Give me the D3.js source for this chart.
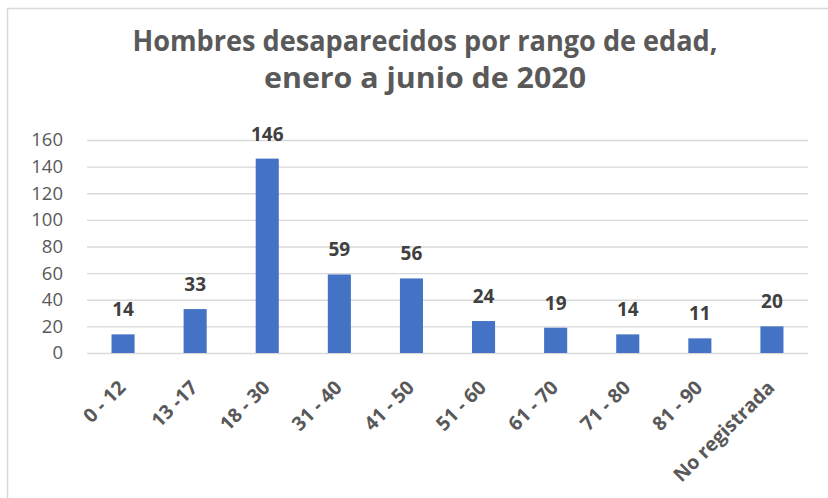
<!DOCTYPE html>
<html lang="es">
<head>
  <meta charset="UTF-8">
  <title>Hombres desaparecidos por rango de edad</title>
  <script src="https://d3js.org/d3.v7.min.js"></script>
  <style>
    body { margin: 0; background: #ffffff; }
    svg { display: block; font-family: "Open Sans", "Noto Sans", sans-serif; }
  </style>
</head>
<body>
  <svg id="chart" width="828" height="498"></svg>
  <script>
    // Data.
    const categories = ["0 - 12", "13 -17", "18 - 30", "31 - 40", "41 - 50", "51 - 60", "61 - 70", "71 - 80", "81 - 90", "No registrada"];
    const values = [14, 33, 146, 59, 56, 24, 19, 14, 11, 20];
    const yTicks = [0, 20, 40, 60, 80, 100, 120, 140, 160];
    const titleLines = ["Hombres desaparecidos por rango de edad,", "enero a junio de 2020"];

    const svg = d3.select("#chart");
    const margin = {top: 140, left: 87, right: 20, bottom: 145};
    const width = 828 - margin.left - margin.right;
    const height = 498 - margin.top - margin.bottom;

    // Outer chart frame (runs off the right and bottom edges like the screenshot).
    svg.append("rect")
      .attr("x", 7.5).attr("y", 8.5)
      .attr("width", 900).attr("height", 600)
      .attr("fill", "none")
      .attr("stroke", "#d9d9d9")
      .attr("stroke-width", 1.5);

    // Title (condensed to mimic the narrow original face)
    svg.selectAll("text.title")
      .data(titleLines)
      .join("text")
      .attr("class", "title")
      .attr("x", 425)
      .attr("y", (d, i) => 51 + i * 37)
      .attr("text-anchor", "middle")
      .attr("font-size", 28)
      .attr("font-weight", "bold")
      .attr("fill", "#595959")
      .attr("textLength", (d, i) => i === 0 ? 585 : 322)
      .attr("lengthAdjust", "spacingAndGlyphs")
      .text(d => d);

    const g = svg.append("g").attr("transform", `translate(${margin.left},${margin.top})`);

    const x = d3.scaleBand().domain(categories).range([0, width]).paddingInner(0.68).paddingOuter(0.34);
    const y = d3.scaleLinear().domain([0, 160]).range([height, 0]);

    // Gridlines
    g.append("g")
      .call(d3.axisLeft(y).tickValues(yTicks).tickSize(-width).tickFormat(""))
      .call(s => s.select(".domain").remove())
      .call(s => s.selectAll("line").attr("stroke", "#d9d9d9").attr("stroke-width", 1.3));

    // Y axis labels
    g.append("g")
      .call(d3.axisLeft(y).tickValues(yTicks).tickSize(0).tickPadding(24))
      .call(s => s.select(".domain").remove())
      .call(s => s.selectAll("text")
        .attr("font-size", 18.5)
        .attr("font-family", "'Open Sans', sans-serif")
        .attr("fill", "#595959"));

    // Bars
    g.selectAll("rect.bar")
      .data(values)
      .join("rect")
      .attr("class", "bar")
      .attr("x", (d, i) => x(categories[i]))
      .attr("width", x.bandwidth())
      .attr("y", d => y(d))
      .attr("height", d => height - y(d))
      .attr("fill", "#4472c4");

    // Data labels
    g.selectAll("text.val")
      .data(values)
      .join("text")
      .attr("class", "val")
      .attr("x", (d, i) => x(categories[i]) + x.bandwidth() / 2)
      .attr("y", d => y(d) - 18)
      .attr("text-anchor", "middle")
      .attr("font-size", 19)
      .attr("font-weight", "bold")
      .attr("fill", "#404040")
      .text(d => d);

    // X axis
    const xAxis = g.append("g")
      .attr("transform", `translate(0,${height})`)
      .call(d3.axisBottom(x).tickSize(0).tickPadding(0));
    xAxis.select(".domain").remove();
    xAxis.selectAll("text")
      .attr("font-size", 19.5)
      .attr("font-weight", "bold")
      .attr("font-family", "'Open Sans', sans-serif")
      .attr("fill", "#595959")
      .attr("text-anchor", "end")
      .attr("dy", "0.35em")
      .attr("transform", "translate(-1,31) rotate(-45)");
  </script>
</body>
</html>
